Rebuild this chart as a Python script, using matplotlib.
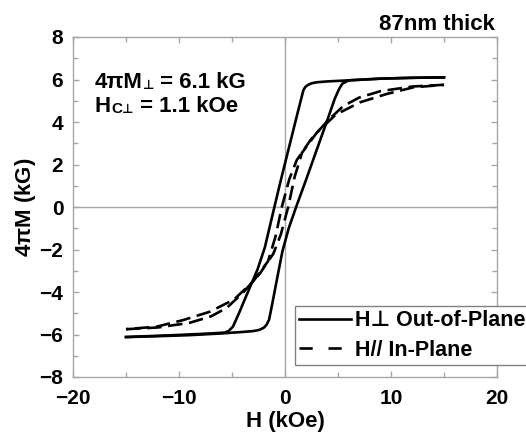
import matplotlib
matplotlib.use("Agg")
import matplotlib.pyplot as plt
from matplotlib.lines import Line2D
from matplotlib.ticker import MultipleLocator

plt.rcParams['font.family'] = ['Liberation Sans', 'DejaVu Sans']
plt.rcParams['font.weight'] = 'bold'
plt.rcParams['mathtext.fontset'] = 'custom'
plt.rcParams['mathtext.rm'] = 'Liberation Sans:bold'
plt.rcParams['mathtext.bf'] = 'Liberation Sans:bold'
plt.rcParams['mathtext.it'] = 'Liberation Sans:bold'
plt.rcParams['mathtext.fallback'] = 'stixsans'

# Out-of-plane loop, descending branch (H from +15 to -15)
perp_down_H = [15, 12, 9, 6, 4, 3, 2.5, 2.15, 1.9, 1.73, 1.2, 0.5, -0.4, -1.0,
               -1.9, -2.6, -3.5, -4.3, -4.9, -5.3, -5.7, -7, -10, -13, -15]
perp_down_M = [6.1, 6.08, 6.04, 5.96, 5.91, 5.87, 5.82, 5.74, 5.64, 5.49, 4.45, 3.05, 1.25, 0.0,
               -1.9, -2.95, -4.0, -4.95, -5.62, -5.83, -5.91, -5.95, -6.02, -6.08, -6.12]
# Out-of-plane loop, ascending branch (H from -15 to +15)
perp_up_H = [-15, -12, -9, -6, -4, -3, -2.4, -2.0, -1.75, -1.5, -1.2, -0.7, -0.25, 0.35, 1.05,
             2.0, 3.0, 4.0, 4.7, 5.1, 5.4, 6.0, 9, 12, 15]
perp_up_M = [-6.12, -6.08, -6.03, -5.95, -5.88, -5.84, -5.78, -5.68, -5.55, -5.3, -4.55, -3.25, -2.1, -1.0, 0.0,
             1.3, 2.7, 4.1, 5.1, 5.55, 5.8, 5.96, 6.04, 6.08, 6.1]

# In-plane loop
par_down_H = [15, 12, 9, 7, 5.5, 4, 2.4, 1.1, 0.4, -0.3, -0.9, -1.6, -3.0, -4.8, -7.1, -9.6, -12.1, -15]
par_down_M = [5.75, 5.67, 5.45, 5.15, 4.75, 4.05, 3.15, 2.2, 1.3, 0.0, -1.4, -2.55, -3.5, -4.35, -4.93, -5.32, -5.63, -5.75]
par_up_H = [-15, -12, -9, -7, -5.5, -4, -2.4, -1.1, -0.4, 0.3, 0.9, 1.6, 3.0, 4.8, 7.1, 9.6, 12.1, 15]
par_up_M = [-5.75, -5.67, -5.45, -5.15, -4.75, -4.05, -3.15, -2.2, -1.3, 0.0, 1.4, 2.55, 3.5, 4.35, 4.93, 5.32, 5.63, 5.75]

x_ticks = [-20, -10, 0, 10, 20]
y_ticks = [-8, -6, -4, -2, 0, 2, 4, 6, 8]

W, H = 526, 432
fig = plt.figure(figsize=(W / 100, H / 100), dpi=100)
ax = fig.add_axes([73 / W, 1 - 377 / H, (497 - 73) / W, (377 - 37) / H])

grey = '#a6a6a6'
ax.axhline(0, color=grey, lw=1.0, zorder=1)
ax.axvline(0, color=grey, lw=1.0, zorder=1)

lw = 1.9
ax.plot(perp_down_H, perp_down_M, color='black', lw=lw, solid_joinstyle='round', zorder=3)
ax.plot(perp_up_H, perp_up_M, color='black', lw=lw, solid_joinstyle='round', zorder=3)
dash = (0, (5.5, 2.5))
ax.plot(par_down_H, par_down_M, color='black', lw=lw, linestyle=dash, zorder=3)
ax.plot(par_up_H, par_up_M, color='black', lw=lw, linestyle=dash, zorder=3)

ax.set_xlim(-20, 20)
ax.set_ylim(-8, 8)
ax.set_xticks(x_ticks)
ax.set_yticks(y_ticks)
ax.xaxis.set_minor_locator(MultipleLocator(5))
ax.yaxis.set_minor_locator(MultipleLocator(1))
ax.tick_params(which='both', direction='in', top=True, right=True, color=grey, width=1.0)
ax.tick_params(which='major', length=4.5, labelsize=15, pad=7)
ax.tick_params(axis='x', which='major', pad=9)
ax.tick_params(which='minor', length=3.5)
for lab in ax.get_xticklabels() + ax.get_yticklabels():
    lab.set_fontweight('bold')
for s in ax.spines.values():
    s.set_color(grey)
    s.set_linewidth(1.0)

ax.set_xlabel('H (kOe)', fontsize=16, fontweight='bold', labelpad=2)
ax.set_ylabel(r'4$\pi$M (kG)', fontsize=16, fontweight='bold', labelpad=1)

fig.text(495 / W, 1 - 25 / H, '87nm thick', ha='right', va='center', fontsize=16, fontweight='bold')

# annotation texts assembled from pieces (small subscripts)
renderer = fig.canvas.get_renderer()


def compose(x_px, base_px, pieces):
    x = x_px
    for txt, size, drop, fam in pieces:
        t = fig.text(x / W, 1 - (base_px + drop) / H, txt, ha='left', va='baseline',
                     fontsize=size, fontweight='bold', family=fam)
        bb = t.get_window_extent(renderer)
        x = bb.x1


main_fam = ['Liberation Sans', 'DejaVu Sans']
sym_fam = ['DejaVu Sans']
compose(95, 88, [('4πM', 16, 0, main_fam), ('⊥', 9, 1, sym_fam), (' = 6.1 kG', 16, 0, main_fam)])
compose(95, 112, [('H', 16, 0, main_fam), ('C', 11, 1, main_fam), ('⊥', 9, 1, sym_fam),
                  (' = 1.1 kOe', 16, 0, main_fam)])

handles = [Line2D([], [], color='black', lw=lw),
           Line2D([], [], color='black', lw=lw, linestyle=(0, (5, 6)))]
leg = fig.legend(handles, ['H⊥ Out-of-Plane', 'H// In-Plane'],
                 loc='upper left', bbox_to_anchor=(295 / W, 1 - 306 / H),
                 frameon=True, fancybox=False, edgecolor='#808080', framealpha=1,
                 borderaxespad=0, borderpad=0.2, handlelength=2.4, handletextpad=0.2,
                 labelspacing=0.4, prop={'size': 15.5, 'weight': 'bold'})
leg.get_frame().set_linewidth(1.0)

fig.savefig('out.png', dpi=100)
